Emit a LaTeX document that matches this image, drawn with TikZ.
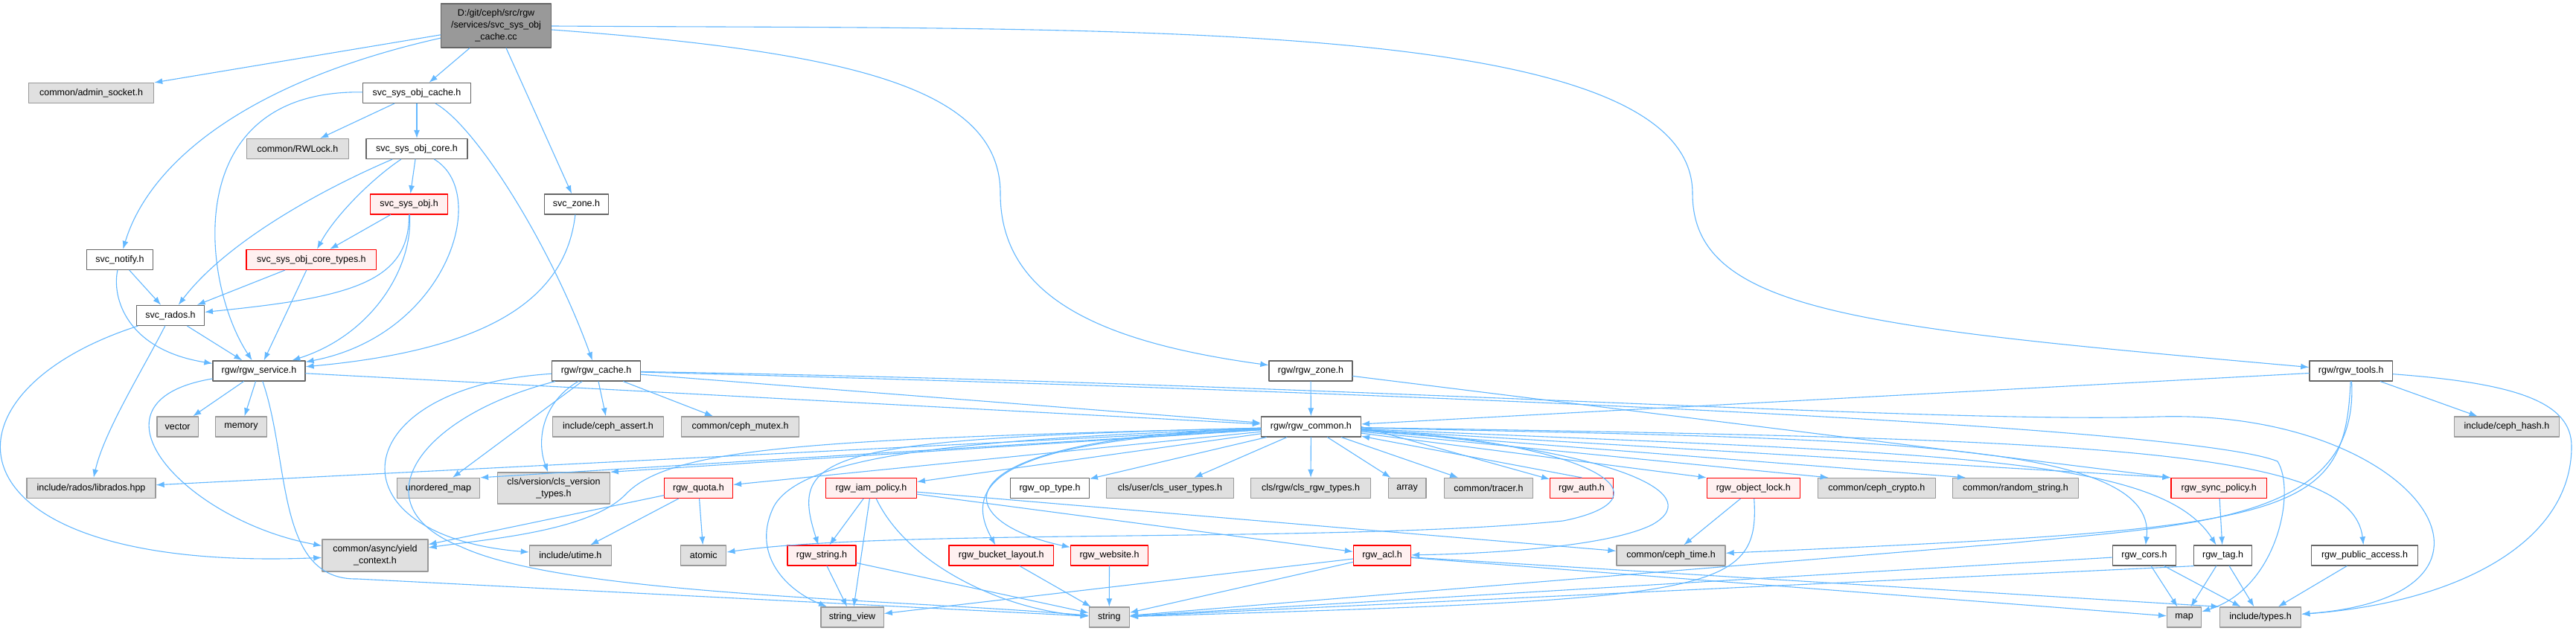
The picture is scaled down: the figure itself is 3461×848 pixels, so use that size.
\documentclass[tikz,border=0pt]{standalone}
\usepackage{fontspec}
\setmainfont{Liberation Sans}
\usetikzlibrary{arrows.meta}

\definecolor{edgeblue}{HTML}{63B8FF}
\definecolor{extfill}{HTML}{E0E0E0}
\definecolor{extline}{HTML}{999999}
\definecolor{hdrline}{HTML}{666666}
\definecolor{cutfill}{HTML}{FFF0F0}
\definecolor{cutline}{HTML}{FF0000}

\begin{document}
\begin{tikzpicture}[
						x=1pt, y=-1pt,
						every node/.style={font=\fontsize{12.5}{16}\selectfont, inner sep=0pt, minimum height=27pt, line width=1.3pt, align=center},
						filebox/.style={draw=hdrline, fill=white},
						extbox/.style={draw=extline, fill=extfill},
						cutbox/.style={draw=cutline, fill=cutfill},
						rootbox/.style={draw=hdrline, fill=extline},
						incl/.style={draw=edgeblue, line width=1.1pt, -{Latex[length=11pt,width=8pt]}},
						line cap=round,
						line join=round
						]
						
						\path[fill=white, use as bounding box] (0,0) rectangle (3461,848);
						
						% Source file
						\node[rootbox, minimum width=148pt, minimum height=59pt] (main) at (666.5,34.5) {D:/git/ceph/src/rgw\\/services/svc\_sys\_obj\\\_cache.cc};
						
						% Service headers
						\node[extbox, minimum width=168pt] (adminsock) at (122.6,125) {common/admin\_socket.h};
						\node[filebox, minimum width=145pt] (syscache) at (560,125) {svc\_sys\_obj\_cache.h};
						\node[extbox, minimum width=136.5pt] (rwlock) at (400,200) {common/RWLock.h};
						\node[filebox, minimum width=136pt] (syscore) at (560,200) {svc\_sys\_obj\_core.h};
						\node[cutbox, minimum width=104pt] (sysobj) at (549.5,274.5) {svc\_sys\_obj.h};
						\node[filebox, minimum width=86.5pt] (svczone) at (774.5,274.5) {svc\_zone.h};
						\node[filebox, minimum width=89.5pt] (notify) at (161,349) {svc\_notify.h};
						\node[cutbox, minimum width=174.7pt] (coretypes) at (418.4,349) {svc\_sys\_obj\_core\_types.h};
						\node[filebox, minimum width=90.6pt] (rados) at (229,424) {svc\_rados.h};
						
						% rgw headers
						\node[filebox, minimum width=124pt] (service) at (348,498.5) {rgw/rgw\_service.h};
						\node[filebox, minimum width=119pt] (cache) at (801,498.5) {rgw/rgw\_cache.h};
						\node[filebox, minimum width=112pt] (rgwzone) at (1761,498.5) {rgw/rgw\_zone.h};
						\node[filebox, minimum width=111.6pt] (tools) at (3158.7,498.5) {rgw/rgw\_tools.h};
						
						\node[extbox, minimum width=55.5pt] (vector) at (238.6,573.5) {vector};
						\node[extbox, minimum width=69pt] (memory) at (324,573.5) {memory};
						\node[extbox, minimum width=149pt] (cassert) at (817,573.5) {include/ceph\_assert.h};
						\node[extbox, minimum width=158pt] (mutex) at (994.5,573.5) {common/ceph\_mutex.h};
						\node[filebox, minimum width=134pt] (common) at (1761.4,573.5) {rgw/rgw\_common.h};
						\node[extbox, minimum width=140.7pt] (cephhash) at (3368,573.5) {include/ceph\_hash.h};
						
						% Included by rgw_common.h
						\node[extbox, minimum width=173pt] (librados) at (122.5,656) {include/rados/librados.hpp};
						\node[extbox, minimum width=111pt] (unordered) at (589,656) {unordered\_map};
						\node[extbox, minimum width=150.6pt, minimum height=42pt] (clsversion) at (744,656) {cls/version/cls\_version\\\_types.h};
						\node[cutbox, minimum width=91.7pt] (quota) at (938.5,656) {rgw\_quota.h};
						\node[cutbox, minimum width=121.6pt] (iam) at (1170.5,656) {rgw\_iam\_policy.h};
						\node[filebox, minimum width=105.5pt] (optype) at (1410.5,656) {rgw\_op\_type.h};
						\node[extbox, minimum width=171pt] (clsuser) at (1572,656) {cls/user/cls\_user\_types.h};
						\node[extbox, minimum width=160.4pt] (clsrgw) at (1761,656) {cls/rgw/cls\_rgw\_types.h};
						\node[extbox, minimum width=50.7pt] (array) at (1890.6,656) {array};
						\node[extbox, minimum width=119pt] (tracer) at (2000,656) {common/tracer.h};
						\node[cutbox, minimum width=84.7pt] (auth) at (2125,656) {rgw\_auth.h};
						\node[cutbox, minimum width=125pt] (objlock) at (2355.8,656) {rgw\_object\_lock.h};
						\node[extbox, minimum width=158pt] (crypto) at (2521.3,656) {common/ceph\_crypto.h};
						\node[extbox, minimum width=168.7pt] (randstr) at (2708,656) {common/random\_string.h};
						\node[cutbox, minimum width=128.5pt] (syncpol) at (2981.3,656) {rgw\_sync\_policy.h};
						
						\node[extbox, minimum width=142pt, minimum height=43pt] (yield) at (503.9,746.5) {common/async/yield\\\_context.h};
						\node[extbox, minimum width=110pt] (utime) at (766.4,746.5) {include/utime.h};
						\node[extbox, minimum width=61pt] (atomic) at (945.3,746.5) {atomic};
						\node[cutbox, minimum width=92pt] (rgwstring) at (1104,746.5) {rgw\_string.h};
						\node[cutbox, minimum width=140.6pt] (bucketlayout) at (1345.3,746.5) {rgw\_bucket\_layout.h};
						\node[cutbox, minimum width=104pt] (website) at (1490.5,746.5) {rgw\_website.h};
						\node[cutbox, minimum width=77pt] (acl) at (1857,746.5) {rgw\_acl.h};
						\node[extbox, minimum width=146pt] (cephtime) at (2245,746.5) {common/ceph\_time.h};
						\node[filebox, minimum width=84.7pt] (cors) at (2881,746.5) {rgw\_cors.h};
						\node[filebox, minimum width=77.5pt] (tag) at (2986.5,746.5) {rgw\_tag.h};
						\node[filebox, minimum width=142.5pt] (publicacc) at (3177,746.5) {rgw\_public\_access.h};
						
						\node[extbox, minimum width=84.3pt] (stringview) at (1145,829.5) {string\_view};
						\node[extbox, minimum width=54pt] (string) at (1490.3,829.5) {string};
						\node[extbox, minimum width=46pt] (map) at (2934.6,829.5) {map};
						\node[extbox, minimum width=109.4pt] (types) at (3037,829.5) {include/types.h};
						
						% Edges from the source file
						\draw[incl] (main) -- (adminsock);
						\draw[incl] (main) -- (syscache);
						\draw[incl] (main) .. controls (330,110) and (200,220) .. (notify);
						\draw[incl] (main) -- (svczone);
						\draw[incl] (main) .. controls (1150,70) and (1344,120) .. (1344,260)
						.. controls (1344,400) and (1480,460) .. (rgwzone);
						\draw[incl] (main) .. controls (1500,40) and (2274,20) .. (2274,260)
						.. controls (2274,420) and (2500,440) .. (tools);
						
						% Service edges
						\draw[incl] (syscache) -- (rwlock);
						\draw[incl] (syscache) -- (syscore);
						\draw[incl] (syscache) .. controls (240,120) and (270,380) .. (service);
						\draw[incl] (syscache) .. controls (640,170) and (740,330) .. (cache);
						\draw[incl] (syscore) -- (sysobj);
						\draw[incl] (syscore) .. controls (500,240) and (450,290) .. (coretypes);
						\draw[incl] (syscore) .. controls (420,260) and (300,330) .. (rados);
						\draw[incl] (syscore) .. controls (660,260) and (600,450) .. (service);
						\draw[incl] (sysobj) -- (coretypes);
						\draw[incl] (sysobj) .. controls (550,380) and (470,400) .. (rados);
						\draw[incl] (sysobj) .. controls (555,360) and (500,450) .. (service);
						\draw[incl] (coretypes) -- (rados);
						\draw[incl] (coretypes) -- (service);
						\draw[incl] (notify) -- (rados);
						\draw[incl] (notify) .. controls (150,400) and (170,470) .. (service);
						\draw[incl] (svczone) .. controls (760,400) and (660,470) .. (service);
						\draw[incl] (rados) -- (service);
						\draw[incl] (rados) .. controls (190,500) and (140,580) .. (librados);
						\draw[incl] (rados) .. controls (-100,530) and (-80,770) .. (yield);
						
						% rgw_service.h and rgw_cache.h
						\draw[incl] (service) -- (vector);
						\draw[incl] (service) -- (memory);
						\draw[incl] (service) .. controls (100,540) and (250,700) .. (yield);
						\draw[incl] (service) .. controls (390,620) and (370,780) .. (480,778) -- (string);
						\draw[incl] (service) -- (common);
						\draw[incl] (cache) -- (cassert);
						\draw[incl] (cache) -- (mutex);
						\draw[incl] (cache) -- (unordered);
						\draw[incl] (cache) .. controls (730,540) and (720,590) .. (clsversion);
						\draw[incl] (cache) .. controls (460,520) and (440,720) .. (utime);
						\draw[incl] (cache) .. controls (560,560) and (480,680) .. (620,735)
						.. controls (760,800) and (1200,805) .. (string);
						\draw[incl] (cache) -- (common);
						\draw[incl] (cache) .. controls (1800,515) and (2600,570) .. (2900,560)
						.. controls (3250,550) and (3420,800) .. (types);
						\draw[incl] (cache) .. controls (2000,530) and (2950,575) .. (3060,620)
						.. controls (3085,660) and (3060,790) .. (map);
						
						% rgw_zone.h and rgw_tools.h
						\draw[incl] (rgwzone) -- (common);
						\draw[incl] (rgwzone) -- (syncpol.north west);
						\draw[incl] (tools) -- (common);
						\draw[incl] (tools) -- (cephhash);
						\draw[incl] (tools) .. controls (3380,515) and (3455,540) .. (3455,600)
						.. controls (3455,730) and (3300,810) .. (types);
						\draw[incl] (tools) .. controls (3150,700) and (3080,710) .. (cephtime);
						\draw[incl] (tools) .. controls (3170,700) and (2950,705) .. (2700,730) -- (string);
						
						% rgw_common.h, right side
						\draw[incl] (common) -- (clsrgw);
						\draw[incl] (common) -- (array);
						\draw[incl] (common) -- (tracer);
						\draw[incl] (common.east) -- (auth);
						\draw[incl] (auth.north) -- (common);
						\draw[incl] (common) -- (objlock.north west);
						\draw[incl] (common) -- ([xshift=15pt]crypto.north west);
						\draw[incl] (common) -- ([xshift=18pt]randstr.north west);
						\draw[incl] (common) -- (syncpol.north west);
						\draw[incl] (common) .. controls (2600,610) and (2900,610) .. (tag);
						\draw[incl] (common) .. controls (2500,590) and (2900,590) .. (cors);
						\draw[incl] (common) .. controls (2800,590) and (3160,600) .. (publicacc);
						\draw[incl] (common) .. controls (2150,600) and (2300,660) .. (2220,705)
						.. controls (2150,740) and (1950,745) .. (acl);
						\draw[incl] (common) .. controls (2150,595) and (2250,670) .. (2100,700)
						.. controls (1800,730) and (1200,710) .. (atomic);
						
						% rgw_common.h, left side
						\draw[incl] (common) -- (clsuser);
						\draw[incl] (common) -- (optype);
						\draw[incl] (common) -- (iam);
						\draw[incl] (common) -- (quota);
						\draw[incl] (common) -- (clsversion.north east);
						\draw[incl] (common) -- (unordered.north east);
						\draw[incl] (common) -- (librados);
						\draw[incl] (common) .. controls (1100,590) and (900,600) .. (840,665)
						.. controls (790,715) and (650,725) .. (yield);
						\draw[incl] (common) .. controls (1100,590) and (1060,610) .. (rgwstring);
						\draw[incl] (common) .. controls (1400,590) and (1280,630) .. (bucketlayout);
						\draw[incl] (common) .. controls (1250,590) and (1270,700) .. (website);
						\draw[incl] (common) .. controls (1300,590) and (1080,610) .. (1040,680)
						.. controls (1010,740) and (1050,790) .. (stringview);
						
						% Lower level headers
						\draw[incl] (quota) -- (yield);
						\draw[incl] (quota) -- (utime);
						\draw[incl] (quota) -- (atomic);
						\draw[incl] (iam) -- (rgwstring);
						\draw[incl] (iam) -- (stringview);
						\draw[incl] (iam) .. controls (1220,760) and (1350,820) .. (string);
						\draw[incl] (iam) -- (acl);
						\draw[incl] (iam) -- (cephtime);
						\draw[incl] (rgwstring) -- (stringview);
						\draw[incl] (rgwstring) -- (string);
						\draw[incl] (bucketlayout) -- (string);
						\draw[incl] (website) -- (string);
						\draw[incl] (acl) -- (stringview);
						\draw[incl] (acl) -- (string);
						\draw[incl] (acl) -- (map);
						\draw[incl] (acl) -- (types.north west);
						\draw[incl] (objlock) -- (cephtime);
						\draw[incl] (objlock) .. controls (2365,800) and (2300,805) .. (string);
						\draw[incl] (cors) -- (string);
						\draw[incl] (cors) -- (map);
						\draw[incl] (cors) -- (types);
						\draw[incl] (syncpol) -- (tag);
						\draw[incl] (tag.south west) -- (string);
						\draw[incl] (tag) -- (map);
						\draw[incl] (tag) -- (types);
						\draw[incl] (publicacc) -- (types);
						
					\end{tikzpicture}
\end{document}
